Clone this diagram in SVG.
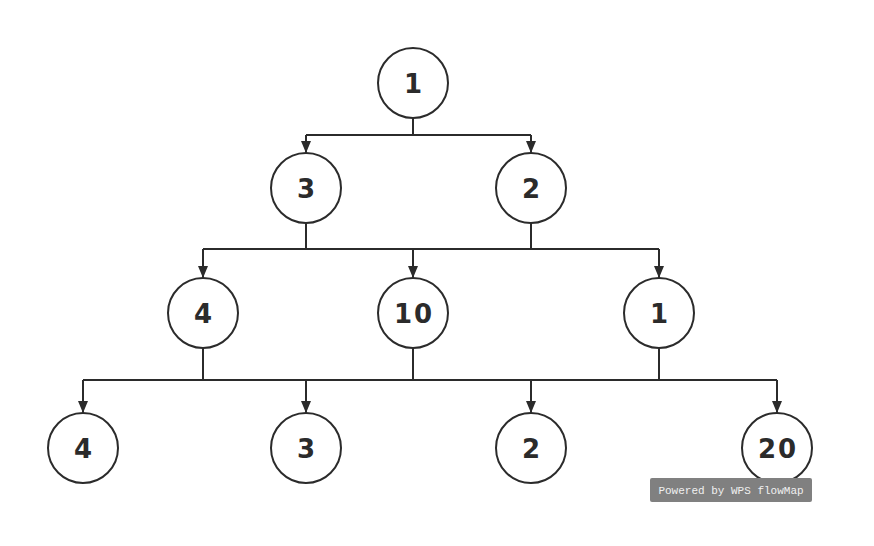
<svg xmlns="http://www.w3.org/2000/svg" width="874" height="546" viewBox="0 0 874 546">
<style>
.n circle{fill:#fff;stroke:#2b2b2b;stroke-width:2}
.n text{font-family:"DejaVu Sans",sans-serif;font-weight:bold;font-size:26px;fill:#2b2b2b;text-anchor:middle;letter-spacing:2px}
.c path{fill:none;stroke:#2b2b2b;stroke-width:2}
</style>
<defs><marker id="a" viewBox="0 0 12 10" refX="12" refY="5" markerWidth="6" markerHeight="5" orient="auto" markerUnits="strokeWidth"><path d="M0,0L12,5L0,10z" fill="#2b2b2b"/></marker></defs>
<rect width="874" height="546" fill="#fff"/>
<g class="c">
<path d="M413,118V135"/><path d="M306,135H531"/>
<path d="M306,135V153" marker-end="url(#a)"/><path d="M531,135V153" marker-end="url(#a)"/>
<path d="M306,223V249"/><path d="M531,223V249"/><path d="M203,249H659"/>
<path d="M203,249V278" marker-end="url(#a)"/><path d="M413,249V278" marker-end="url(#a)"/><path d="M659,249V278" marker-end="url(#a)"/>
<path d="M203,348V380"/><path d="M413,348V380"/><path d="M659,348V380"/><path d="M83,380H777"/>
<path d="M83,380V413" marker-end="url(#a)"/><path d="M306,380V413" marker-end="url(#a)"/><path d="M531,380V413" marker-end="url(#a)"/><path d="M777,380V413" marker-end="url(#a)"/>
</g>
<g id="n1" class="n"><circle cx="413" cy="83" r="35"/><text x="414" y="93">1</text></g>
<g id="n2" class="n"><circle cx="306" cy="188" r="35"/><text x="307" y="198">3</text></g>
<g id="n3" class="n"><circle cx="531" cy="188" r="35"/><text x="532" y="198">2</text></g>
<g id="n4" class="n"><circle cx="203" cy="313" r="35"/><text x="204" y="323">4</text></g>
<g id="n5" class="n"><circle cx="413" cy="313" r="35"/><text x="414" y="323">10</text></g>
<g id="n6" class="n"><circle cx="659" cy="313" r="35"/><text x="660" y="323">1</text></g>
<g id="n7" class="n"><circle cx="83" cy="448" r="35"/><text x="84" y="458">4</text></g>
<g id="n8" class="n"><circle cx="306" cy="448" r="35"/><text x="307" y="458">3</text></g>
<g id="n9" class="n"><circle cx="531" cy="448" r="35"/><text x="532" y="458">2</text></g>
<g id="n10" class="n"><circle cx="777" cy="448" r="35"/><text x="778" y="458">20</text></g>
<g id="wm"><rect x="650" y="478" width="162" height="24" rx="2" fill="#808080"/><text x="731" y="494" font-family="Liberation Mono,monospace" font-size="11" fill="#f0f0f0" text-anchor="middle">Powered by WPS flowMap</text></g>
</svg>
